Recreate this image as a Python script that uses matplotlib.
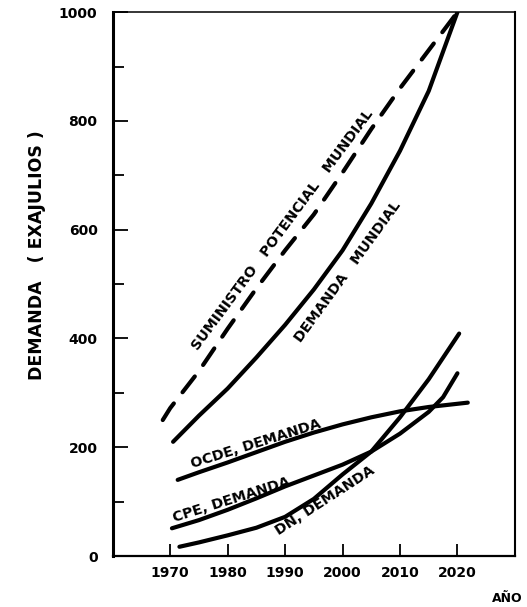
import numpy as np
import matplotlib.pyplot as plt
from matplotlib.ticker import MultipleLocator

# demanda y suministro de energia, exajulios
anio_sum = [1968.7, 1970, 1975, 1980, 1985, 1990, 1995, 2000, 2005, 2010, 2015, 2020]
suministro = [250, 272, 340, 418, 492, 562, 628, 705, 785, 860, 930, 1000]

anio_mund = [1970.5, 1975, 1980, 1985, 1990, 1995, 2000, 2005, 2010, 2015, 2020]
demanda_mundial = [210, 258, 308, 365, 425, 490, 562, 648, 745, 855, 1000]

anio_ocde = [1971.3, 1975, 1980, 1985, 1990, 1995, 2000, 2005, 2010, 2015, 2021.8]
ocde = [140, 154, 172, 191, 210, 227, 242, 255, 266, 274, 282]

anio_cpe = [1970.3, 1975, 1980, 1985, 1990, 1995, 2000, 2005, 2010, 2015, 2017.5, 2020]
cpe = [51, 66, 85, 106, 128, 148, 168, 192, 225, 265, 292, 336]

anio_dn = [1971.6, 1975, 1980, 1985, 1990, 1995, 2000, 2005, 2010, 2015, 2020.3]
dn = [17, 25, 38, 52, 72, 105, 150, 192, 255, 325, 409]

xticks = [1970, 1980, 1990, 2000, 2010, 2020]
yticks = [0, 200, 400, 600, 800, 1000]

fig = plt.figure(figsize=(5.27, 6.07), dpi=100)
ax = fig.add_axes([0.214, 0.084, 0.763, 0.896])

lw = 3.0
ax.plot(anio_sum, suministro, color='black', lw=lw, linestyle=(0, (4.8, 3.4)),
        dash_capstyle='round', solid_capstyle='round')
for xs, ys in [(anio_mund, demanda_mundial), (anio_ocde, ocde),
               (anio_cpe, cpe), (anio_dn, dn)]:
    ax.plot(xs, ys, color='black', lw=lw, solid_capstyle='round',
            solid_joinstyle='round')

ax.set_xlim(1960, 2030)
ax.set_ylim(0, 1000)
ax.set_xticks(xticks)
ax.set_yticks(yticks)
ax.yaxis.set_minor_locator(MultipleLocator(100))
ax.tick_params(axis='y', which='major', direction='in', length=11, width=1.3, pad=11)
ax.tick_params(axis='y', which='minor', direction='in', length=8, width=1.3)
ax.tick_params(axis='x', which='major', direction='in', length=8.5, width=1.3, pad=7)
for lab in ax.get_xticklabels() + ax.get_yticklabels():
    lab.set_fontweight('bold')
    lab.set_fontsize(10)

ax.spines['left'].set_linewidth(2.2)
ax.spines['bottom'].set_linewidth(1.6)
ax.spines['right'].set_linewidth(1.5)
ax.spines['top'].set_linewidth(1.1)

fig.text(37 / 527, 1 - 255 / 607, 'DEMANDA   ( EXAJULIOS )', fontsize=12.5,
         fontweight='bold', rotation=90, ha='center', va='center')
fig.text(507 / 527, 1 - 598 / 607, 'AÑO', fontsize=9, fontweight='bold',
         ha='center', va='center')

# etiquetas sobre las curvas
kw = dict(fontsize=10.3, fontweight='bold', ha='center', va='center',
          rotation_mode='anchor', transform=ax.transData)
ax.text(1989.6, 599, 'SUMINISTRO   POTENCIAL   MUNDIAL', rotation=53.5, **kw)
ax.text(2001.0, 522, 'DEMANDA   MUNDIAL', rotation=54, **kw)
ax.text(1984.9, 206, 'OCDE, DEMANDA', rotation=17.5, **kw)
ax.text(1980.6, 103, 'CPE, DEMANDA', rotation=17.5, **kw)
ax.text(1996.9, 101, 'DN, DEMANDA', rotation=33, **kw)

fig.savefig('out.png', dpi=100)
